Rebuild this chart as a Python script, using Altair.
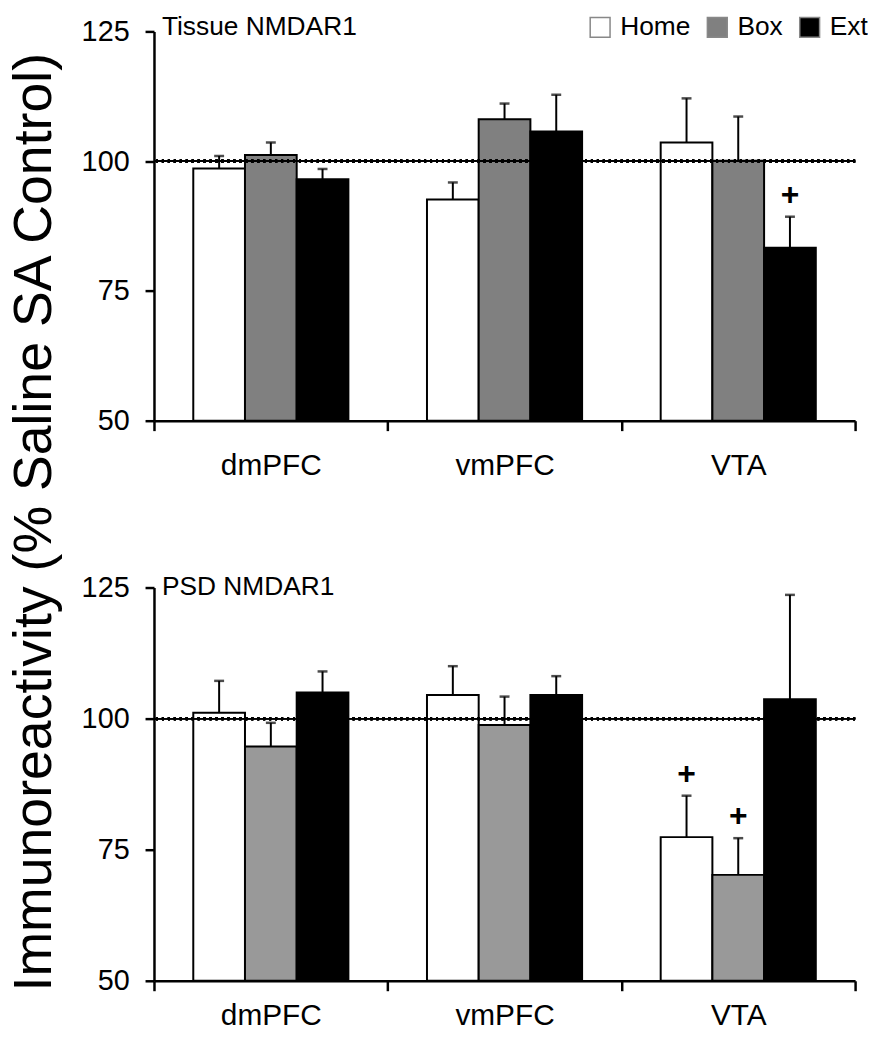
import altair as alt
import pandas as pd

regions = ["dmPFC", "vmPFC", "VTA"]
groups = ["Home", "Box", "Ext"]

tissue_mean = [98.6, 101.2, 96.5, 92.6, 108.1, 105.7, 103.6, 100.1, 83.3]
tissue_sem = [2.4, 2.4, 2.0, 3.3, 3.0, 7.1, 8.5, 8.5, 6.0]
tissue_sig = [False, False, False, False, False, False, False, False, True]

psd_mean = [101.1, 94.7, 105.0, 104.5, 98.8, 104.5, 77.4, 70.2, 103.7]
psd_sem = [6.1, 4.5, 4.0, 5.5, 5.4, 3.6, 7.9, 7.0, 19.9]
psd_sig = [False, False, False, False, False, False, True, True, False]

y_ticks = [50, 75, 100, 125]
FONT = "Liberation Sans"


def make_df(means, sems, sigs):
    rows = []
    i = 0
    for r in regions:
        for g in groups:
            rows.append({"region": r, "group": g, "mean": means[i],
                         "top": means[i] + sems[i], "sig": sigs[i]})
            i += 1
    return pd.DataFrame(rows)


def panel(df, title, gray, show_legend, label_pad, height):
    base = alt.Chart(df)
    x = alt.X("region:N", sort=regions,
              scale=alt.Scale(paddingInner=0, paddingOuter=0),
              axis=alt.Axis(title=None, tickBand="extent", labelAngle=0,
                            labelFontSize=30, labelPadding=label_pad,
                            tickSize=10, tickWidth=2.5, domainWidth=2.5,
                            labelFont=FONT))
    xo = alt.XOffset("group:N", sort=groups,
                     scale=alt.Scale(paddingOuter=0.76, paddingInner=0))
    yscale = alt.Scale(domain=[50, 125], zero=False, nice=False)
    yaxis = alt.Axis(title=None, values=y_ticks, grid=False, labelFontSize=29,
                     labelPadding=16, tickSize=9, tickWidth=2.5,
                     domainWidth=2.5, labelFont=FONT)
    if show_legend:
        legend = alt.Legend(title=None, orient="none", legendX=436, legendY=-17.5,
                            direction="horizontal", symbolType="square",
                            symbolSize=400, labelFontSize=26.5, labelOffset=7,
                            columnPadding=13, symbolStrokeColor="#888888",
                            symbolStrokeWidth=1.5, padding=0, labelFont=FONT)
    else:
        legend = None
    color = alt.Color("group:N", sort=groups,
                      scale=alt.Scale(domain=groups, range=["white", gray, "black"]),
                      legend=legend)
    bars = base.mark_bar(stroke="black", strokeWidth=2).encode(
        x=x, xOffset=xo, y=alt.Y("mean:Q", scale=yscale, axis=yaxis),
        y2=alt.datum(50), color=color)
    err = base.mark_rule(color="black", strokeWidth=2).encode(
        x=x, xOffset=xo, y="mean:Q", y2="top:Q")
    caps = base.mark_tick(color="black", thickness=2.5, size=10).encode(
        x=x, xOffset=xo, y="top:Q")
    ref_solid = base.mark_rule(color="black", strokeWidth=1.5).encode(y=alt.datum(100))
    ref_dots = base.mark_rule(color="black", strokeWidth=3.5,
                              strokeDash=[2, 4]).encode(y=alt.datum(100))
    plus = base.transform_filter("datum.sig").mark_text(
        text="+", fontSize=32, fontWeight="bold", dy=-22, font=FONT,
        baseline="middle", color="black").encode(x=x, xOffset=xo, y="top:Q")
    return alt.layer(bars, err, caps, ref_solid, ref_dots, plus).properties(
        width=706, height=height,
        title=alt.TitleParams(title, anchor="start", frame="group", fontSize=26.5,
                              fontWeight="normal", font=FONT, dx=8,
                              offset=-27, color="black"))


top = panel(make_df(tissue_mean, tissue_sem, tissue_sig), "Tissue NMDAR1",
            "#808080", True, 20, 392)
bottom = panel(make_df(psd_mean, psd_sem, psd_sig), "PSD NMDAR1",
               "#999999", False, 10, 396)

chart = alt.vconcat(
    top, bottom, spacing=94,
    title=alt.TitleParams("Immunoreactivity (% Saline SA Control)", orient="left",
                          anchor="middle", fontSize=54, fontWeight="normal",
                          font=FONT, offset=19, color="black"),
).resolve_scale(color="independent").properties(
    padding={"top": 2, "left": 0, "right": 0, "bottom": 0}
).configure_view(stroke=None).configure_axis(
    domainColor="black", tickColor="black", labelColor="black")

chart.save("out.html", embed_options={"renderer": "svg", "actions": False})
